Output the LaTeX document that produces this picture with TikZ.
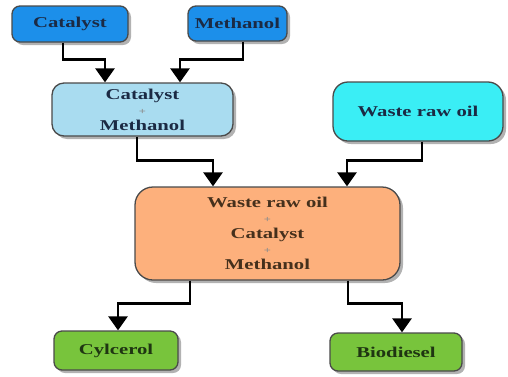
\documentclass[tikz,border=0pt]{standalone}
\usepackage{fontspec}
\setmainfont{Liberation Serif}
\newfontfamily\boxfont[FakeStretch=1.38]{Liberation Serif}
\usetikzlibrary{arrows.meta,shadows}
\definecolor{cblue}{HTML}{1C8FEA}
\definecolor{clight}{HTML}{A9DCF0}
\definecolor{ccyan}{HTML}{3AEEF5}
\definecolor{corange}{HTML}{FDB07C}
\definecolor{cgreen}{HTML}{78C43C}
\definecolor{cborder}{HTML}{4A4A4A}
\definecolor{tnavy}{HTML}{1B2A44}
\definecolor{tbrown}{HTML}{45301C}
\definecolor{tgreen}{HTML}{1F3512}
\tikzset{
  box/.style={draw=cborder, line width=1.3pt, align=center, inner sep=0pt,
    font=\boxfont\bfseries\fontsize{15}{16}\selectfont,
    drop shadow={shadow xshift=3pt, shadow yshift=-3pt, fill=black!50, opacity=0.6}},
  arr/.style={line width=2.8pt, -{Triangle[width=19pt,length=14pt]}}
}
\newcommand{\pls}{{\fontsize{9}{9}\selectfont\color{black!45}+}}
\begin{document}
\begin{tikzpicture}[x=1pt,y=-1pt]
\fill[white] (0,0) rectangle (508,376);
\useasboundingbox (0,0) rectangle (508,376);
\node[box, fill=cblue, text=tnavy, minimum width=116pt, minimum height=36pt, rounded corners=8pt] (cat) at (70,24) {Catalyst};
\node[box, fill=cblue, text=tnavy, minimum width=99pt, minimum height=35pt, rounded corners=8pt] (meth) at (237.5,23.5) {Methanol};
\node[box, fill=clight, text=tnavy, minimum width=181pt, minimum height=53pt, rounded corners=12pt] (cm) at (142.5,109.5) {Catalyst\\[-1pt]\pls\\[0pt]Methanol};
\node[box, fill=ccyan, text=tnavy, minimum width=170pt, minimum height=59pt, rounded corners=15pt] (waste) at (418,111.5) {Waste raw oil};
\node[box, fill=corange, text=tbrown, minimum width=265pt, minimum height=93pt, rounded corners=18pt] (big) at (267.5,233.5) {Waste raw oil\\[-1pt]\pls\\[0pt]Catalyst\\[-1pt]\pls\\[0pt]Methanol};
\node[box, fill=cgreen, text=tgreen, minimum width=124pt, minimum height=39pt, rounded corners=8pt] (cyl) at (116,350.5) {Cylcerol};
\node[box, fill=cgreen, text=tgreen, minimum width=132pt, minimum height=38pt, rounded corners=8pt] (bio) at (396,352) {Biodiesel};
\draw[arr] ([xshift=-7pt]cat.south) -- ++(0,17) -| ([xshift=-37.5pt]cm.north);
\draw[arr] ([xshift=5.5pt]meth.south) -- ++(0,17.5) -| ([xshift=37.5pt]cm.north);
\draw[arr] ([xshift=-5.5pt]cm.south) -- ++(0,24) -| ([xshift=-54.5pt]big.north);
\draw[arr] ([xshift=4pt]waste.south) -- ++(0,19) -| ([xshift=79.5pt]big.north);
\draw[arr] ([xshift=-77.5pt]big.south) -- ++(0,23) -| ([xshift=2pt]cyl.north);
\draw[arr] ([xshift=80.5pt]big.south) -- ++(0,23) -| ([xshift=6pt]bio.north);
\end{tikzpicture}
\end{document}
